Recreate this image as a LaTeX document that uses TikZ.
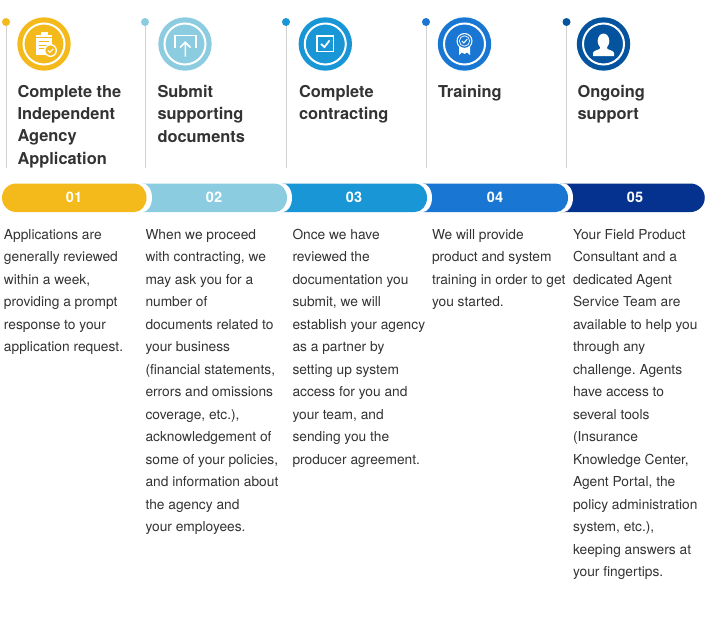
\documentclass[tikz,border=0pt]{standalone}
\usepackage{fontspec}
\setmainfont{TeX Gyre Heros}
\frenchspacing
\definecolor{cA}{HTML}{F4B91B}
\definecolor{cB}{HTML}{8BCCE0}
\definecolor{cC}{HTML}{1896D6}
\definecolor{cD}{HTML}{1976D2}
\definecolor{cE}{HTML}{04328E}
\definecolor{cEi}{HTML}{04539E}
\definecolor{ink}{HTML}{333333}
\definecolor{stemc}{HTML}{D2D2D2}
\tikzset{
 every node/.style={inner sep=0pt,outer sep=0pt},
 title/.style={anchor=north west,align=left,font=\fontsize{16.4}{22.4}\selectfont\bfseries,text=ink},
 body/.style={anchor=north west,align=left,font=\fontsize{13.75}{22.5}\selectfont,text=ink},
 num/.style={font=\fontsize{14.5}{16}\selectfont\bfseries,text=white},
 stem/.style={draw=stemc,line width=1pt},
 ring/.style={draw=white,line width=2pt,fill=none},
 ic/.style={draw=white,line width=1.6pt,line cap=butt,line join=miter},
}
\newcommand{\seg}[3]{\fill[white] (#1-8,183.25) -- (#2-7,183.25) arc[start angle=-90,end angle=90,x radius=10,y radius=14.5] -- (#1-8,212.25) -- cycle;
 \fill[#3] (#1-8,183.5) -- (#2-14,183.5) arc[start angle=-90,end angle=90,x radius=12,y radius=14.25] -- (#1-8,212) -- cycle;}
\begin{document}
\begin{tikzpicture}[x=1pt,y=-1pt]
\useasboundingbox (0,0) rectangle (706,637);
\fill[white] (0,0) rectangle (706,637);
% band, drawn right to left so that each cap overlaps the next colour
\fill[cE] (560,183.5) -- (690.5,183.5) arc[start angle=-90,end angle=90,radius=14.25] -- (560,212) -- cycle;
\seg{431}{570}{cD}
\seg{290}{429}{cC}
\seg{150}{289}{cB}
\fill[white] (16,183.25) -- (142,183.25) arc[start angle=-90,end angle=90,x radius=10,y radius=14.5] -- (16,212.25) -- cycle;
\fill[cA] (16.25,183.5) -- (134.5,183.5) arc[start angle=-90,end angle=90,x radius=12,y radius=14.25] -- (16.25,212) arc[start angle=90,end angle=270,radius=14.25] -- cycle;
\node[num] (n1) at (74,197.5) {01};
\node[num] (n2) at (214,197.5) {02};
\node[num] (n3) at (354,197.5) {03};
\node[num] (n4) at (495,197.5) {04};
\node[num] (n5) at (635,197.5) {05};
% stems and dots
\coordinate (e1) at (6,168); \coordinate (e2) at (145,168); \coordinate (e3) at (286,168); \coordinate (e4) at (426,168); \coordinate (e5) at (566.5,168);
\coordinate (s1) at (6,22); \coordinate (s2) at (145,22); \coordinate (s3) at (286,22); \coordinate (s4) at (426,22); \coordinate (s5) at (566.5,22);
\draw[stem] (s1) -- (e1); \draw[stem] (s2) -- (e2); \draw[stem] (s3) -- (e3); \draw[stem] (s4) -- (e4); \draw[stem] (s5) -- (e5);
\fill[cA] (s1) circle (4); \fill[cB] (s2) circle (4); \fill[cC] (s3) circle (4); \fill[cD] (s4) circle (4); \fill[cEi] (s5) circle (4);
% badges
\fill[cA] (44,44) circle (26.7); \draw[ring] (44,44) circle (20.5);
\fill[cB] (185,44) circle (26.7); \draw[ring] (185,44) circle (20.5);
\fill[cC] (325.3,44) circle (26.7); \draw[ring] (325.3,44) circle (20.5);
\fill[cD] (464.5,44) circle (26.7); \draw[ring] (464.5,44) circle (20.5);
\fill[cEi] (603.5,44) circle (26.7); \draw[ring] (603.5,44) circle (20.5);
% icon 1: clipboard with check
\fill[white] (36,34.5) rectangle (52,55);
\fill[white] (40.5,32) rectangle (47.5,37);
\draw[cA,line width=.9pt] (36,37.5) -- (52,37.5);
\draw[cA,line width=1pt] (39,41.5) -- (49,41.5) (39,45) -- (49,45) (39,48.5) -- (45,48.5);
\fill[white] (50.5,50.5) circle (6.5);
\fill[cA] (50.5,50.5) circle (5.2);
\draw[white,line width=1pt] (47.8,50.5) -- (49.8,52.5) -- (53.2,48.8);
% icon 2: upload
\draw[ic] (175,48) -- (175,35.5) -- (196,35.5) -- (196,48);
\draw[ic] (185.3,56.5) -- (185.3,43) (180,47.5) -- (185.3,42.2) -- (190.6,47.5);
% icon 3: checkbox
\draw[white,line width=1.8pt] (317,36) rectangle (333.5,51.5);
\draw[white,line width=1.8pt] (321,44) -- (324.5,47) -- (329.5,40.5);
% icon 4: rosette
\fill[white] (459,46) -- (459,55) -- (462,52.5) -- (464.5,54) -- (467,52.5) -- (470,55) -- (470,46) -- cycle;
\fill[white] (464.5,41) circle (8);
\fill[cD] (464.5,41) circle (6.8);
\draw[white,line width=.7pt] (464.5,41) circle (5.2);
\draw[white,line width=1pt] (461.8,41) -- (463.8,43) -- (467.2,39.2);
% icon 5: person
\fill[white] (603.5,41) ellipse (5.8 and 7.5);
\fill[white] (600,45) -- (607,45) -- (607,48.5) .. controls (608,50) and (614,50.5) .. (614,53) -- (614,56) -- (593,56) -- (593,53) .. controls (593,50.5) and (599,50) .. (600,48.5) -- cycle;
% titles
\node[title] (t1) at (17.5,85) {Complete the\\Independent\\Agency\\Application};
\node[title] (t2) at (157.5,85) {Submit\\supporting\\documents};
\node[title] (t3) at (299,85) {Complete\\contracting};
\node[title] (t4) at (438,85) {Training};
\node[title] (t5) at (577.5,85) {Ongoing\\support};
% body text
\node[body] (b1) at (4,229) {Applications are\\generally reviewed\\within a week,\\providing a prompt\\response to your\\application request.};
\node[body] (b2) at (145.5,229) {When we proceed\\with contracting, we\\may ask you for a\\number of\\documents related to\\your business\\(financial statements,\\errors and omissions\\coverage, etc.),\\acknowledgement of\\some of your policies,\\and information about\\the agency and\\your employees.};
\node[body] (b3) at (292.5,229) {Once we have\\reviewed the\\documentation you\\submit, we will\\establish your agency\\as a partner by\\setting up system\\access for you and\\your team, and\\sending you the\\producer agreement.};
\node[body] (b4) at (432,229) {We will provide\\product and system\\training in order to get\\you started.};
\node[body] (b5) at (573,229) {Your Field Product\\Consultant and a\\dedicated Agent\\Service Team are\\available to help you\\through any\\challenge. Agents\\have access to\\several tools\\(Insurance\\Knowledge Center,\\Agent Portal, the\\policy administration\\system, etc.),\\keeping answers at\\your fingertips.};
\end{tikzpicture}
\end{document}
